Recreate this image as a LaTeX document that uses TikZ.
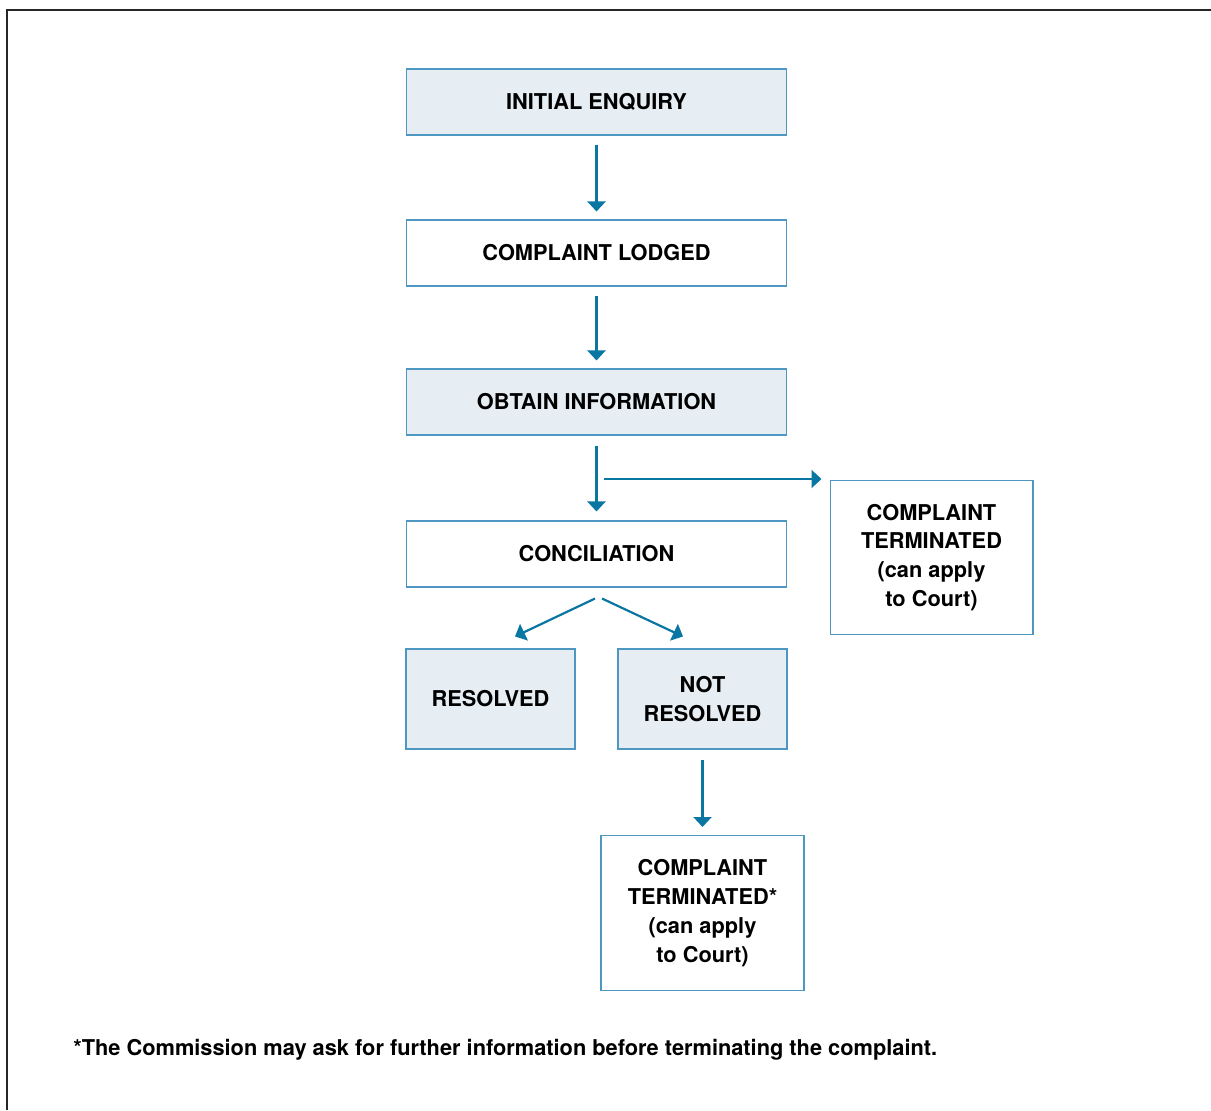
\documentclass[tikz,border=0pt]{standalone}
\usepackage{fontspec}
\setmainfont{TeX Gyre Heros}
\usetikzlibrary{arrows.meta}
\definecolor{flowblue}{HTML}{0A76A2}
\definecolor{boxline}{HTML}{4E97C2}
\definecolor{boxfill}{HTML}{E6EDF3}
\newcommand{\boxfont}{\fontsize{12.4}{16.4}\selectfont\bfseries}

\begin{document}
\begin{tikzpicture}[x=0.02cm,y=-0.02cm,
  stage/.style={draw=boxline,line width=0.6pt,inner sep=0pt,align=center,
    font=\boxfont,minimum width=7.62cm,minimum height=1.32cm},
  shaded/.style={stage,fill=boxfill},
  flow/.style={draw=flowblue,line width=1.25pt,
    -{Triangle[length=0.2cm,width=0.36cm]}}]
  \useasboundingbox (0,0) rectangle (1211,1110);
  % frame
  \draw[line width=0.8pt,black!85] (7,1110) -- (7,10) -- (1211,10);

  % Main column
  \node[shaded] (enquiry) at (596.5,102) {INITIAL ENQUIRY};
  \node[stage] (lodged) at (596.5,253) {COMPLAINT LODGED};
  \node[shaded] (info) at (596.5,402) {OBTAIN INFORMATION};
  \node[stage] (concil) at (596.5,554) {CONCILIATION};

  % Outcomes
  \node[shaded,minimum width=3.38cm,minimum height=2cm] (resolved) at (490.5,699) {RESOLVED};
  \node[shaded,minimum width=3.38cm,minimum height=2cm] (notres) at (702.5,699) {NOT\\RESOLVED};
  \node[stage,minimum width=4.06cm,minimum height=3.08cm] (term) at (931.5,557.5)
    {COMPLAINT\\TERMINATED\\(can apply\\to Court)};
  \node[stage,minimum width=4.06cm,minimum height=3.1cm] (termstar) at (702.5,913)
    {COMPLAINT\\TERMINATED*\\(can apply\\to Court)};

  % Connectors
  \draw[flow,shorten <=0.18cm,shorten >=0.16cm] (enquiry.south) -- (lodged.north);
  \draw[flow,shorten <=0.18cm,shorten >=0.16cm] (lodged.south) -- (lodged.south |- info.north);
  \draw[flow,shorten <=0.2cm,shorten >=0.18cm] (info.south) -- (concil.north);
  \draw[flow,shorten >=0.16cm] ([xshift=0.14cm,yshift=0.02cm]info.south |- term.north west) -- ([yshift=0.02cm]term.north west);
  \draw[flow] ([xshift=-0.03cm,yshift=-0.22cm]concil.south) -- ([xshift=0.49cm,yshift=0.24cm]resolved.north);
  \draw[flow] ([xshift=0.11cm,yshift=-0.22cm]concil.south) -- ([xshift=-0.39cm,yshift=0.24cm]notres.north);
  \draw[flow,shorten <=0.2cm,shorten >=0.16cm] (notres.south) -- (termstar.north);

  % Note
  \node[anchor=base west,inner sep=0pt,font=\fontsize{12.4}{14}\selectfont\bfseries] (note) at (73,1055)
    {*The Commission may ask for further information before terminating the complaint.};
\end{tikzpicture}
\end{document}
